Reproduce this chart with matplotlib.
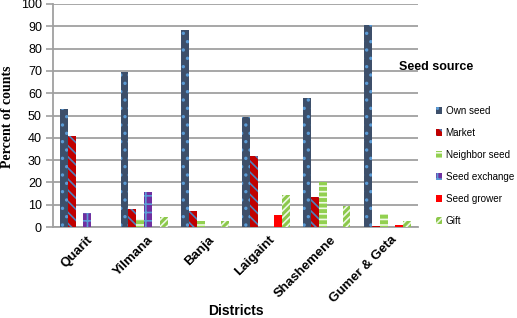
import matplotlib
matplotlib.use("Agg")
import matplotlib.pyplot as plt
import numpy as np

districts = ["Quarit", "Yilmana", "Banja", "Laigaint", "Shashemene", "Gumer & Geta"]
own_seed = [53, 69.5, 88.5, 49.5, 58, 90.5]
market = [41, 8, 7.2, 32, 13.3, 0.6]
neighbor_seed = [0, 3.5, 2.7, 0, 20.3, 5.8]
seed_exchange = [6.3, 15.6, 0, 0, 0, 0]
seed_grower = [0, 0, 0, 5.3, 0, 0.7]
gift = [0, 4.3, 2.7, 14.5, 9.5, 2.7]
yticks = list(range(0, 101, 10))

series = [
    ("Own seed", own_seed, "#3D4F6A", "#5B9BD5", ".."),
    ("Market", market, "#C00000", "#4F81BD", "\\\\\\"),
    ("Neighbor seed", neighbor_seed, "#92D050", "#F0FAE6", "---"),
    ("Seed exchange", seed_exchange, "#7030A0", "#5B9BD5", "++"),
    ("Seed grower", seed_grower, "#FF0000", "#FF0000", None),
    ("Gift", gift, "#8CC84B", "#EEF8E4", "/////"),
]

plt.rcParams["hatch.linewidth"] = 1.2
fig = plt.figure(figsize=(5.17, 3.18), dpi=100)
ax = fig.add_axes([53 / 517, 1 - 227 / 318, (418 - 53) / 517, 223 / 318])

x = np.arange(len(districts))
w = 0.13
handles = []
for i, (name, vals, fc, hc, hatch) in enumerate(series):
    b = ax.bar(x + (i - 2.5) * w, vals, w, facecolor=fc, edgecolor=hc,
               hatch=hatch, linewidth=0, label=name, zorder=3)
    handles.append(b)

ax.set_xlim(-0.5, len(districts) - 0.5)
ax.set_ylim(0, 100)
ax.set_yticks(yticks)
ax.set_yticklabels([str(t) for t in yticks], fontsize=9, family="Liberation Sans")
ax.yaxis.grid(True, color="#A0A0A0", linewidth=1.3, zorder=0)
ax.set_axisbelow(True)
for s in ["top", "right"]:
    ax.spines[s].set_visible(False)
for s in ["left", "bottom"]:
    ax.spines[s].set_color("#A0A0A0")
    ax.spines[s].set_linewidth(1.3)
ax.tick_params(axis="y", color="#A0A0A0", length=5, width=1.2, pad=3)
ax.tick_params(axis="x", length=0, pad=5)
ax.set_xticks(x + 0.05)
ax.set_xticklabels(districts, rotation=45, ha="right", rotation_mode="anchor",
                   fontsize=9.5, fontweight="bold", family="Liberation Sans")

fig.text(8 / 517, 1 - 117 / 318, "Percent of counts", rotation=90, fontsize=10,
         fontweight="bold", family="Liberation Serif", va="center", ha="center")
fig.text(236 / 517, 1 - 315 / 318, "Districts", fontsize=10, fontweight="bold",
         family="Liberation Sans", va="baseline", ha="center")
fig.text(399 / 517, 1 - 67 / 318, "Seed source", fontsize=9, fontweight="bold",
         family="Liberation Sans", va="center", ha="left")
fig.legend(handles=handles, loc="upper left", bbox_to_anchor=(427 / 517, 1 - 97 / 318),
           frameon=False, handlelength=0.6, handleheight=0.6,
           handletextpad=0.4, labelspacing=1.22,
           prop={"family": "Liberation Sans", "size": 7.1})

fig.savefig("out.png", dpi=100)
